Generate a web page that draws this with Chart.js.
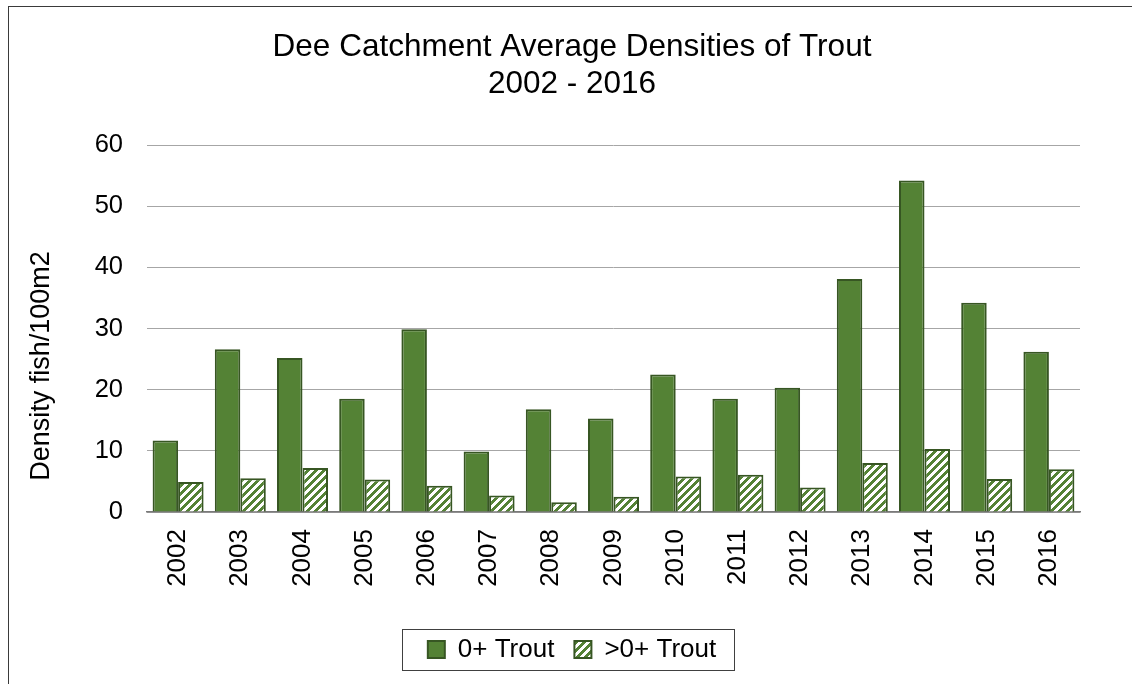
<!DOCTYPE html>
<html>
<head>
<meta charset="utf-8">
<script src="https://cdn.jsdelivr.net/npm/chart.js@4.4.1/dist/chart.umd.min.js"></script>
<style>
  html, body { margin: 0; padding: 0; background: #ffffff; }
  #wrap { width: 1132px; height: 684px; position: relative; }
</style>
</head>
<body>
<div id="wrap"><canvas id="c" width="1132" height="684"></canvas></div>
<script>
// ---- data ----
const years = ['2002','2003','2004','2005','2006','2007','2008','2009','2010','2011','2012','2013','2014','2015','2016'];
const troutYoung = [11.7, 26.6, 25.2, 18.5, 29.9, 9.9, 16.8, 15.3, 22.5, 18.5, 20.3, 38.1, 54.2, 34.2, 26.2];
const troutOlder = [4.9, 5.5, 7.2, 5.3, 4.3, 2.7, 1.6, 2.5, 5.8, 6.1, 4.0, 8.0, 10.3, 5.4, 7.0];
const seriesNames = ['0+ Trout', '>0+ Trout'];
const titleLines = ['Dee Catchment Average Densities of Trout', '2002 - 2016'];
const yAxisTitle = 'Density fish/100m2';
const yTicks = { min: 0, max: 60, step: 10 };

// ---- styles ----
const FONT = '"Liberation Sans", Arial, Helvetica, sans-serif';
const GREEN = '#548235';
const DARK_GREEN = '#375623';

const canvas = document.getElementById('c');
const ctx = canvas.getContext('2d');

function makeStripePattern() {
  const t = document.createElement('canvas');
  t.width = 8; t.height = 8;
  const g = t.getContext('2d');
  g.fillStyle = '#ffffff';
  g.fillRect(0, 0, 8, 8);
  g.fillStyle = GREEN;
  for (let i = 0; i < 8; i++) {
    for (let j = 0; j < 8; j++) {
      if (((i + j) % 8) < 4) g.fillRect(i, j, 1, 1);
    }
  }
  return ctx.createPattern(t, 'repeat');
}
const stripes = makeStripePattern();

const outerFrame = {
  id: 'outerFrame',
  beforeDraw(chart) {
    const c = chart.ctx;
    c.save();
    c.fillStyle = '#ffffff';
    c.fillRect(0, 0, chart.width, chart.height);
    c.strokeStyle = '#3a3a3a';
    c.lineWidth = 1;
    c.strokeRect(8.5, 6.5, chart.width + 50, chart.height + 50);
    c.restore();
  }
};

const yTitlePlugin = {
  id: 'yTitlePlugin',
  afterDraw(chart) {
    const c = chart.ctx;
    const xs = chart.scales.x;
    const area = chart.chartArea;
    c.save();
    c.font = xs.options.ticks.font.size + 'px ' + FONT;
    let maxW = 0;
    years.forEach(l => { maxW = Math.max(maxW, c.measureText(l).width); });
    const labelsBottom = area.bottom + xs.options.ticks.padding + maxW;
    const cy = (area.top + labelsBottom) / 2;
    const cx = chart.scales.y.left + 28;
    c.font = '27px ' + FONT;
    c.fillStyle = '#000000';
    c.textAlign = 'center';
    c.textBaseline = 'middle';
    c.translate(cx, cy);
    c.rotate(-Math.PI / 2);
    c.fillText(yAxisTitle, 0, 0);
    c.restore();
  }
};

const legendFrame = {
  id: 'legendFrame',
  afterDraw(chart) {
    const lg = chart.legend;
    if (!lg || !lg.legendHitBoxes || !lg.legendHitBoxes.length) return;
    const hb = lg.legendHitBoxes;
    let l = Infinity, r = -Infinity, t = Infinity, b = -Infinity;
    hb.forEach(h => {
      l = Math.min(l, h.left); r = Math.max(r, h.left + h.width);
      t = Math.min(t, h.top); b = Math.max(b, h.top + h.height);
    });
    const cy = (t + b) / 2;
    const c = chart.ctx;
    c.save();
    c.strokeStyle = '#404040';
    c.lineWidth = 1;
    c.strokeRect(Math.round(l - 26) + 0.5, Math.round(cy - 20.5) + 0.5, Math.round(r - l + 44), 41);
    c.restore();
  }
};

new Chart(ctx, {
  type: 'bar',
  data: {
    labels: years,
    datasets: [
      {
        label: seriesNames[0],
        data: troutYoung,
        backgroundColor: GREEN,
        borderColor: DARK_GREEN,
        borderWidth: 2,
        categoryPercentage: 0.82,
        barPercentage: 1.0
      },
      {
        label: seriesNames[1],
        data: troutOlder,
        backgroundColor: stripes,
        borderColor: DARK_GREEN,
        borderWidth: 2,
        categoryPercentage: 0.82,
        barPercentage: 1.0
      }
    ]
  },
  options: {
    responsive: false,
    animation: false,
    devicePixelRatio: 1,
    layout: { padding: { left: 14, right: 2, top: 0, bottom: 11.5 } },
    plugins: {
      title: {
        display: true,
        text: titleLines,
        color: '#000000',
        font: { family: FONT, size: 31.5, weight: 'normal', lineHeight: 1.18 },
        padding: { top: 29, bottom: 41.7 }
      },
      legend: {
        display: true,
        position: 'bottom',
        labels: {
          color: '#000000',
          font: { family: FONT, size: 26 },
          boxWidth: 17,
          boxHeight: 17,
          padding: 20
        }
      },
      tooltip: { enabled: false }
    },
    scales: {
      x: {
        grid: { display: false, drawTicks: false },
        border: { display: true, color: '#7a7a7a', width: 1.5 },
        ticks: {
          color: '#000000',
          font: { family: FONT, size: 26 },
          minRotation: 90,
          maxRotation: 90,
          padding: 17,
          autoSkip: false
        },
        afterFit(s) { s.height = 104.5; }
      },
      y: {
        min: yTicks.min,
        max: yTicks.max,
        grid: { color: '#a6a6a6', lineWidth: 1, drawTicks: false },
        border: { display: false },
        ticks: {
          stepSize: yTicks.step,
          color: '#000000',
          font: { family: FONT, size: 25.5 },
          padding: 24
        },
        afterFit(s) { s.width = 133; }
      },
      yRight: {
        type: 'linear',
        position: 'right',
        display: true,
        grid: { display: false, drawTicks: false },
        border: { display: false },
        ticks: { display: false },
        afterFit(s) { s.width = 50; }
      }
    }
  },
  plugins: [outerFrame, yTitlePlugin, legendFrame]
});
</script>
</body>
</html>
